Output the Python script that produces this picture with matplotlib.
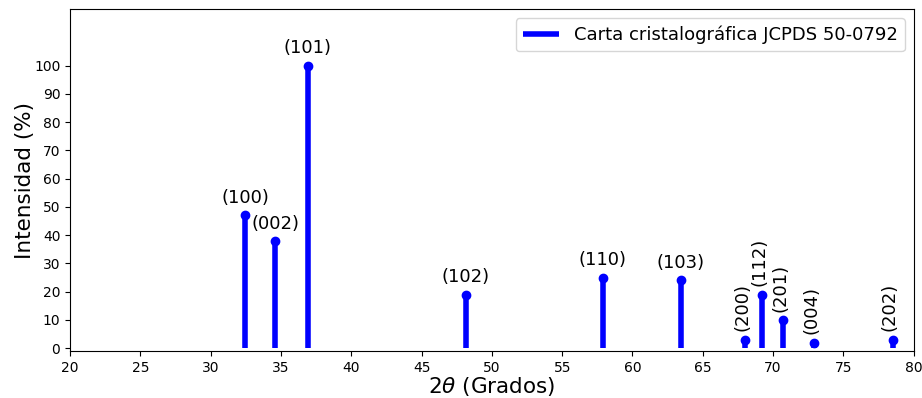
import numpy as np
import matplotlib.pyplot as plt

# picos de la carta JCPDS 50-0792
two_theta = [32.45, 34.6, 36.9, 48.15, 57.9, 63.45, 68.0, 69.2, 70.7, 72.9, 78.5]
intensidad = [47, 38, 100, 19, 25, 24, 3, 19, 10, 2, 3]
planos = ['(100)', '(002)', '(101)', '(102)', '(110)', '(103)',
          '(200)', '(112)', '(201)', '(004)', '(202)']
girados = ['(200)', '(112)', '(201)', '(004)', '(202)']

fig = plt.figure(figsize=(9.22, 3.98), dpi=100)
ax = fig.add_axes([0.076, 0.118, 0.915, 0.859])

ax.vlines(two_theta, 0, intensidad, color='blue', linewidth=4,
          label='Carta cristalográfica JCPDS 50-0792')
ax.plot(two_theta, intensidad, 'o', color='blue', markersize=6)

for x, y, p in zip(two_theta, intensidad, planos):
	if p in girados:
		ax.annotate(p, (x, y), xytext=(-2, 6), textcoords='offset points',
		            ha='center', va='bottom', rotation=90, fontsize=13)
	else:
		ax.annotate(p, (x, y), xytext=(0, 6), textcoords='offset points',
		            ha='center', va='bottom', fontsize=13)

ax.set_xlim(20, 80)
ax.set_ylim(-1, 120)
ax.set_xticks(np.arange(20, 81, 5))
ax.set_yticks(np.arange(0, 101, 10))
ax.set_xlabel(r'2$\theta$ (Grados)', fontsize=15.5, labelpad=0)
ax.set_ylabel('Intensidad (%)', fontsize=15.5, labelpad=-1)
ax.legend(loc='upper right', fontsize=13)

fig.savefig('out.png', dpi=100)
